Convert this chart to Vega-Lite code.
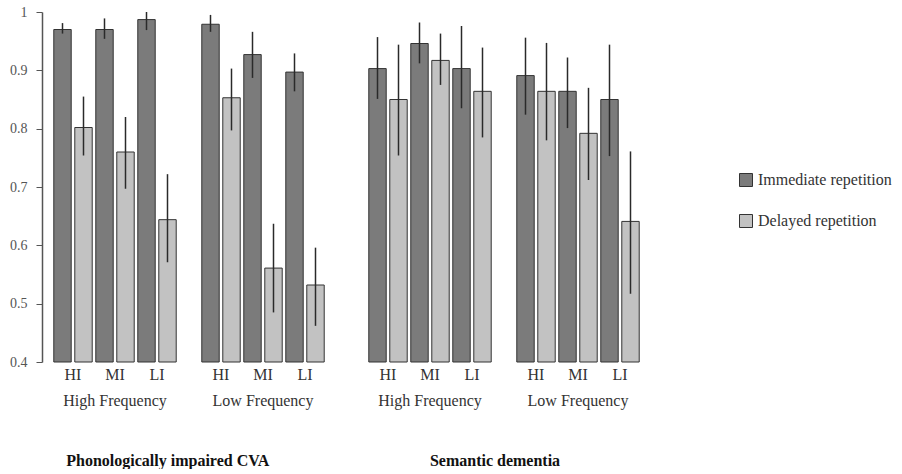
{
  "$schema": "https://vega.github.io/schema/vega-lite/v6.json",
  "padding": {"left": 9, "top": 5, "right": 0, "bottom": 0},
  "config": {
    "font": "Liberation Serif, Times New Roman, serif",
    "view": {"stroke": null},
    "axis": {"labelFont": "Liberation Serif, Times New Roman, serif", "grid": false},
    "bar": {"stroke": "#333333", "strokeWidth": 1},
    "legend": {"labelFont": "Liberation Serif, Times New Roman, serif"},
    "header": {"labelFont": "Liberation Serif, Times New Roman, serif"},
    "title": {"font": "Liberation Serif, Times New Roman, serif"}
  },
  "data": {
    "values": [
      {"condition": "CVA", "freq": "High Frequency", "interf": "HI", "rep": "Immediate repetition", "value": 0.970, "lo": 0.963, "hi": 0.981},
      {"condition": "CVA", "freq": "High Frequency", "interf": "HI", "rep": "Delayed repetition", "value": 0.802, "lo": 0.754, "hi": 0.855},
      {"condition": "CVA", "freq": "High Frequency", "interf": "MI", "rep": "Immediate repetition", "value": 0.970, "lo": 0.954, "hi": 0.989},
      {"condition": "CVA", "freq": "High Frequency", "interf": "MI", "rep": "Delayed repetition", "value": 0.760, "lo": 0.697, "hi": 0.820},
      {"condition": "CVA", "freq": "High Frequency", "interf": "LI", "rep": "Immediate repetition", "value": 0.987, "lo": 0.969, "hi": 1.0},
      {"condition": "CVA", "freq": "High Frequency", "interf": "LI", "rep": "Delayed repetition", "value": 0.644, "lo": 0.571, "hi": 0.722},
      {"condition": "CVA", "freq": "Low Frequency", "interf": "HI", "rep": "Immediate repetition", "value": 0.979, "lo": 0.966, "hi": 0.995},
      {"condition": "CVA", "freq": "Low Frequency", "interf": "HI", "rep": "Delayed repetition", "value": 0.853, "lo": 0.797, "hi": 0.903},
      {"condition": "CVA", "freq": "Low Frequency", "interf": "MI", "rep": "Immediate repetition", "value": 0.927, "lo": 0.887, "hi": 0.966},
      {"condition": "CVA", "freq": "Low Frequency", "interf": "MI", "rep": "Delayed repetition", "value": 0.561, "lo": 0.485, "hi": 0.637},
      {"condition": "CVA", "freq": "Low Frequency", "interf": "LI", "rep": "Immediate repetition", "value": 0.897, "lo": 0.864, "hi": 0.929},
      {"condition": "CVA", "freq": "Low Frequency", "interf": "LI", "rep": "Delayed repetition", "value": 0.532, "lo": 0.462, "hi": 0.596},
      {"condition": "SD", "freq": "High Frequency", "interf": "HI", "rep": "Immediate repetition", "value": 0.903, "lo": 0.851, "hi": 0.957},
      {"condition": "SD", "freq": "High Frequency", "interf": "HI", "rep": "Delayed repetition", "value": 0.850, "lo": 0.754, "hi": 0.944},
      {"condition": "SD", "freq": "High Frequency", "interf": "MI", "rep": "Immediate repetition", "value": 0.946, "lo": 0.912, "hi": 0.982},
      {"condition": "SD", "freq": "High Frequency", "interf": "MI", "rep": "Delayed repetition", "value": 0.917, "lo": 0.875, "hi": 0.963},
      {"condition": "SD", "freq": "High Frequency", "interf": "LI", "rep": "Immediate repetition", "value": 0.903, "lo": 0.835, "hi": 0.976},
      {"condition": "SD", "freq": "High Frequency", "interf": "LI", "rep": "Delayed repetition", "value": 0.864, "lo": 0.785, "hi": 0.939},
      {"condition": "SD", "freq": "Low Frequency", "interf": "HI", "rep": "Immediate repetition", "value": 0.891, "lo": 0.824, "hi": 0.956},
      {"condition": "SD", "freq": "Low Frequency", "interf": "HI", "rep": "Delayed repetition", "value": 0.864, "lo": 0.780, "hi": 0.947},
      {"condition": "SD", "freq": "Low Frequency", "interf": "MI", "rep": "Immediate repetition", "value": 0.864, "lo": 0.801, "hi": 0.922},
      {"condition": "SD", "freq": "Low Frequency", "interf": "MI", "rep": "Delayed repetition", "value": 0.792, "lo": 0.712, "hi": 0.870},
      {"condition": "SD", "freq": "Low Frequency", "interf": "LI", "rep": "Immediate repetition", "value": 0.850, "lo": 0.753, "hi": 0.944},
      {"condition": "SD", "freq": "Low Frequency", "interf": "LI", "rep": "Delayed repetition", "value": 0.641, "lo": 0.517, "hi": 0.761}
    ]
  },
  "spacing": 41,
  "resolve": {"scale": {"color": "shared"}, "legend": {"color": "shared"}},
  "hconcat": [
    {
      "transform": [{"filter": "datum.condition === 'CVA'"}],
      "title": {"text": "Phonologically impaired CVA", "orient": "bottom", "anchor": "middle", "fontSize": 16, "fontWeight": "bold", "color": "#111111", "offset": 44},
      "spacing": 22,
      "facet": {
        "column": {
          "field": "freq", "type": "nominal", "sort": ["High Frequency", "Low Frequency"],
          "title": null,
          "header": {"labelOrient": "bottom", "labelFontSize": 16, "labelColor": "#333333", "labelPadding": 11}
        }
      },
      "spec": {
        "width": 126,
        "height": 350,
        "encoding": {
          "x": {"field": "interf", "type": "nominal", "sort": ["HI", "MI", "LI"], "title": null,
                "scale": {"paddingInner": 0, "paddingOuter": 0},
                "axis": {"domain": false, "ticks": false, "labelAngle": 0, "labelFontSize": 16, "labelColor": "#333333", "labelPadding": 3}},
          "xOffset": {"field": "rep", "type": "nominal", "sort": ["Immediate repetition", "Delayed repetition"],
                      "scale": {"paddingInner": 0.17, "paddingOuter": 0.085}}
        },
        "layer": [
          {
            "mark": {"type": "bar"},
            "encoding": {
              "y": {"field": "value", "type": "quantitative", "title": null,
                    "scale": {"domain": [0.4, 1], "zero": false, "nice": false},
                    "axis": {"values": [0.4, 0.5, 0.6, 0.7, 0.8, 0.9, 1], "format": ".1~f", "offset": 10, "labelFontSize": 14, "labelColor": "#555555", "tickSize": 6, "labelPadding": 9, "domainColor": "#555555", "tickColor": "#555555", "domainWidth": 1.5}},
              "y2": {"datum": 0.4},
              "color": {"field": "rep", "type": "nominal", "sort": ["Immediate repetition", "Delayed repetition"],
                        "scale": {"domain": ["Immediate repetition", "Delayed repetition"], "range": ["#7b7b7b", "#c2c2c2"]},
                        "legend": {"title": null, "orient": "none", "legendX": 686, "legendY": 160, "symbolType": "square", "symbolSize": 169, "symbolStrokeColor": "#333333", "symbolStrokeWidth": 1, "symbolOpacity": 1, "labelFontSize": 16, "labelColor": "#333333", "labelLimit": 300, "rowPadding": 23, "labelOffset": 4, "padding": 0}}
            }
          },
          {
            "mark": {"type": "rule", "color": "#2a2a2a", "strokeWidth": 1.5},
            "encoding": {
              "y": {"field": "lo", "type": "quantitative"},
              "y2": {"field": "hi"}
            }
          }
        ]
      }
    },
    {
      "transform": [{"filter": "datum.condition === 'SD'"}],
      "title": {"text": "Semantic dementia", "orient": "bottom", "anchor": "middle", "fontSize": 16, "fontWeight": "bold", "color": "#111111", "offset": 44, "dx": -9},
      "spacing": 22,
      "facet": {
        "column": {
          "field": "freq", "type": "nominal", "sort": ["High Frequency", "Low Frequency"],
          "title": null,
          "header": {"labelOrient": "bottom", "labelFontSize": 16, "labelColor": "#333333", "labelPadding": 11}
        }
      },
      "spec": {
        "width": 126,
        "height": 350,
        "encoding": {
          "x": {"field": "interf", "type": "nominal", "sort": ["HI", "MI", "LI"], "title": null,
                "scale": {"paddingInner": 0, "paddingOuter": 0},
                "axis": {"domain": false, "ticks": false, "labelAngle": 0, "labelFontSize": 16, "labelColor": "#333333", "labelPadding": 3}},
          "xOffset": {"field": "rep", "type": "nominal", "sort": ["Immediate repetition", "Delayed repetition"],
                      "scale": {"paddingInner": 0.17, "paddingOuter": 0.085}}
        },
        "layer": [
          {
            "mark": {"type": "bar"},
            "encoding": {
              "y": {"field": "value", "type": "quantitative", "title": null,
                    "scale": {"domain": [0.4, 1], "zero": false, "nice": false},
                    "axis": null},
              "y2": {"datum": 0.4},
              "color": {"field": "rep", "type": "nominal", "sort": ["Immediate repetition", "Delayed repetition"],
                        "scale": {"domain": ["Immediate repetition", "Delayed repetition"], "range": ["#7b7b7b", "#c2c2c2"]}}
            }
          },
          {
            "mark": {"type": "rule", "color": "#2a2a2a", "strokeWidth": 1.5},
            "encoding": {
              "y": {"field": "lo", "type": "quantitative"},
              "y2": {"field": "hi"}
            }
          }
        ]
      }
    }
  ]
}
